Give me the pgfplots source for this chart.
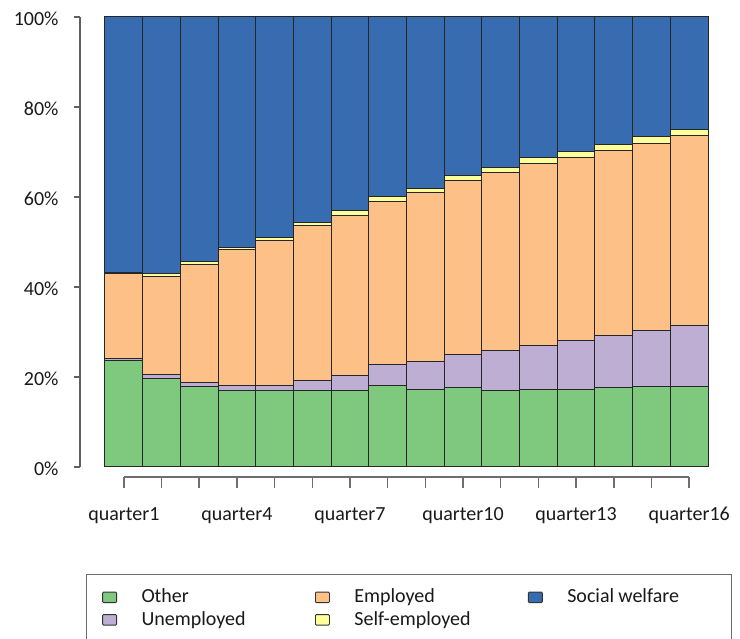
\documentclass[border=0pt]{standalone}
\usepackage{fontspec}
\setmainfont{Carlito}
\usepackage{pgfplots}
\usepackage{pgfplotstable}
\pgfplotsset{compat=1.18}

\definecolor{cOther}{HTML}{7FC97F}
\definecolor{cUnemp}{HTML}{BEAED4}
\definecolor{cEmp}{HTML}{FDC086}
\definecolor{cSelf}{HTML}{FFFF99}
\definecolor{cWelf}{HTML}{386CB0}
\definecolor{axgray}{HTML}{6E6E6E}
\definecolor{ygray}{RGB}{96,96,100}

% share of each status per quarter (percent)
\pgfplotstableread{
x  other unemp emp  self welf
0  23.7  0.3   18.9 0.4  56.7
1  19.7  0.9   21.8 0.6  57.0
2  17.8  1.0   26.2 0.6  54.4
3  16.9  1.1   30.3 0.5  51.2
4  16.9  1.3   32.1 0.7  49.0
5  16.9  2.4   34.3 0.8  45.6
6  16.9  3.5   35.4 1.1  43.1
7  18.0  4.7   36.4 1.0  39.9
8  17.3  6.2   37.5 0.9  38.1
9  17.6  7.4   38.6 1.1  35.3
10 17.1  8.8   39.6 1.0  33.5
11 17.3  9.6   40.6 1.3  31.2
12 17.3  10.7  40.8 1.3  29.9
13 17.6  11.7  41.0 1.4  28.3
14 17.8  12.6  41.5 1.5  26.6
15 17.8  13.7  42.1 1.4  25.0
}\datatable

\begin{document}
\begin{tikzpicture}
\begin{axis}[
    at={(105pt,172pt)}, anchor=south west,
    scale only axis,
    width=603pt, height=450pt,
    ybar stacked,
    bar width=1,
    clip=false,
    xmin=-0.5, xmax=15.5,
    ymin=0, ymax=100,
    enlargelimits=false,
    axis x line*=bottom,
    axis y line*=left,
    axis x line shift=10pt,
    axis y line shift=25pt,
    axis on top,
    x axis line style={draw=axgray, line width=1.5pt,
        shorten <=18.84pt, shorten >=18.84pt},
    y axis line style={draw=ygray, line width=2.2pt},
    tick align=outside,
    major tick length=6pt,
    xtick style={draw=axgray, line width=1.5pt,
        /pgfplots/major tick length=11pt},
    ytick style={draw=ygray, line width=2pt},
    xtick={0,...,15},
    xticklabels={quarter1,,,quarter4,,,quarter7,,,quarter10,,,quarter13,,,quarter16},
    ytick={0,20,40,60,80,100},
    yticklabels={0\%,20\%,40\%,60\%,80\%,100\%},
    tick label style={font=\fontsize{20}{24}\selectfont, text=black!90},
    xticklabel style={anchor=base, yshift=-38pt},
    yticklabel style={anchor=east, xshift=-12pt, yshift=-2pt},
    every axis plot/.append style={draw=black!85, line width=1pt},
    legend image code/.code={%
        \draw[#1, draw=black!80, line width=0.9pt, rounded corners=1pt]
            (0pt,-5pt) rectangle (14pt,5.5pt);},
    transpose legend,
    legend columns=2,
    legend style={
        at={(-0.0315,-0.2367)}, anchor=north west,
        draw=axgray, line width=1.2pt,
        inner xsep=15.5pt, inner ysep=14.5pt,
        column sep=24.5pt, row sep=4.5pt,
        font=\fontsize{20}{24}\selectfont, text=black!90,
        nodes={anchor=west, text width=149pt, inner xsep=0pt, inner ysep=0pt,
            text height=14pt, text depth=4pt},
    },
]
\addplot[fill=cOther] table[x=x, y=other] {\datatable};
\addlegendentry{Other}
\addplot[fill=cUnemp] table[x=x, y=unemp] {\datatable};
\addlegendentry{Unemployed}
\addplot[fill=cEmp] table[x=x, y=emp] {\datatable};
\addlegendentry{Employed}
\addplot[fill=cSelf] table[x=x, y=self] {\datatable};
\addlegendentry{Self-employed}
\addplot[fill=cWelf] table[x=x, y=welf] {\datatable};
\addlegendentry{Social\hspace{-2.5pt} welfare}
\end{axis}
\pgfresetboundingbox
\path[use as bounding box] (0pt,0pt) rectangle (740pt,639pt);
\end{tikzpicture}
\end{document}
